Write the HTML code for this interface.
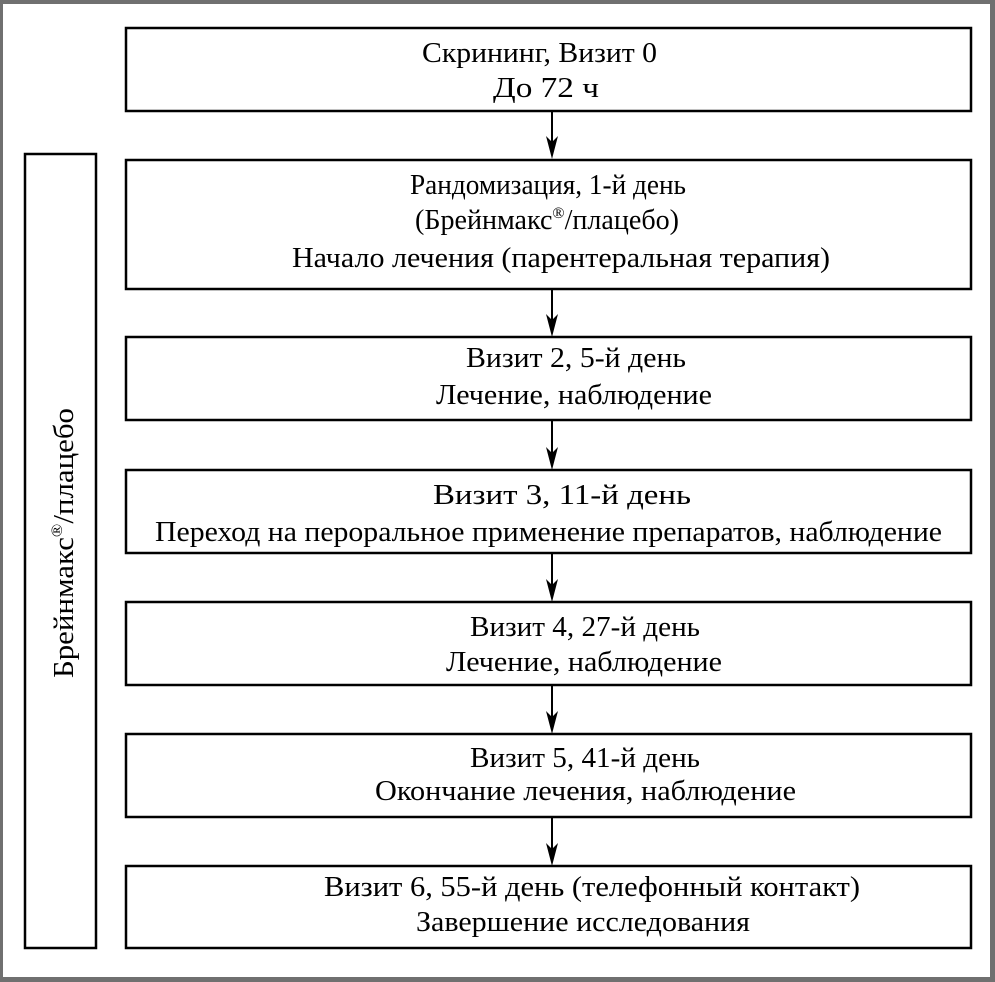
<!DOCTYPE html>
<html><head><meta charset="utf-8"><style>
html,body{margin:0;padding:0;background:#fff;}
svg{display:block;}
text{font-family:"Liberation Serif",serif;font-size:28px;fill:#000;}
</style></head><body>
<svg width="995" height="982" viewBox="0 0 995 982" xmlns="http://www.w3.org/2000/svg">
<rect x="0" y="0" width="995" height="982" fill="#707070"/>
<rect x="3" y="4" width="987" height="973" fill="#fff"/>
<g fill="none" stroke="#000" stroke-width="2.5">
<rect x="126" y="28" width="845" height="83"/>
<rect x="126" y="160" width="845" height="129"/>
<rect x="126" y="337" width="845" height="83"/>
<rect x="126" y="470" width="845" height="83"/>
<rect x="126" y="602" width="845" height="83"/>
<rect x="126" y="734" width="845" height="83"/>
<rect x="126" y="866" width="845" height="82"/>
<rect x="25" y="154" width="71" height="794"/>
<g stroke-width="2">
<line x1="552" y1="111" x2="552" y2="150"/>
<line x1="552" y1="289" x2="552" y2="328"/>
<line x1="552" y1="420" x2="552" y2="461"/>
<line x1="552" y1="553" x2="552" y2="593"/>
<line x1="552" y1="685" x2="552" y2="725"/>
<line x1="552" y1="817" x2="552" y2="857"/>
</g>
</g>
<g fill="#000">
<path d="M546 136 L552 159 L558 136 L552 142 Z"/>
<path d="M546 314 L552 337 L558 314 L552 320 Z"/>
<path d="M546 447 L552 470 L558 447 L552 453 Z"/>
<path d="M546 579 L552 602 L558 579 L552 585 Z"/>
<path d="M546 711 L552 734 L558 711 L552 717 Z"/>
<path d="M546 843 L552 866 L558 843 L552 849 Z"/>
</g>
<g lengthAdjust="spacingAndGlyphs">
<text x="422" y="62" textLength="235" lengthAdjust="spacingAndGlyphs">Скрининг, Визит 0</text>
<text x="493" y="97" textLength="106" lengthAdjust="spacingAndGlyphs">До 72 ч</text>
<text x="410" y="194" textLength="276" lengthAdjust="spacingAndGlyphs">Рандомизация, 1-й день</text>
<text x="415" y="229" textLength="264" lengthAdjust="spacingAndGlyphs">(Брейнмакс<tspan font-size="16" dy="-11">®</tspan><tspan dy="11">/плацебо)</tspan></text>
<text x="292" y="267" textLength="538" lengthAdjust="spacingAndGlyphs">Начало лечения (парентеральная терапия)</text>
<text x="466" y="367" textLength="220" lengthAdjust="spacingAndGlyphs">Визит 2, 5-й день</text>
<text x="436" y="404" textLength="276" lengthAdjust="spacingAndGlyphs">Лечение, наблюдение</text>
<text x="433" y="504" textLength="258" lengthAdjust="spacingAndGlyphs">Визит 3, 11-й день</text>
<text x="155" y="541" textLength="787" lengthAdjust="spacingAndGlyphs">Переход на пероральное применение препаратов, наблюдение</text>
<text x="470" y="636" textLength="230" lengthAdjust="spacingAndGlyphs">Визит 4, 27-й день</text>
<text x="446" y="671" textLength="276" lengthAdjust="spacingAndGlyphs">Лечение, наблюдение</text>
<text x="470" y="767" textLength="230" lengthAdjust="spacingAndGlyphs">Визит 5, 41-й день</text>
<text x="375" y="800" textLength="421" lengthAdjust="spacingAndGlyphs">Окончание лечения, наблюдение</text>
<text x="324" y="896" textLength="536" lengthAdjust="spacingAndGlyphs">Визит 6, 55-й день (телефонный контакт)</text>
<text x="416" y="931" textLength="334" lengthAdjust="spacingAndGlyphs">Завершение исследования</text>
<text transform="translate(73,678) rotate(-90)" textLength="270" lengthAdjust="spacingAndGlyphs">Брейнмакс<tspan font-size="16" dy="-11">®</tspan><tspan dy="11">/плацебо</tspan></text>
</g>
</svg>
</body></html>
